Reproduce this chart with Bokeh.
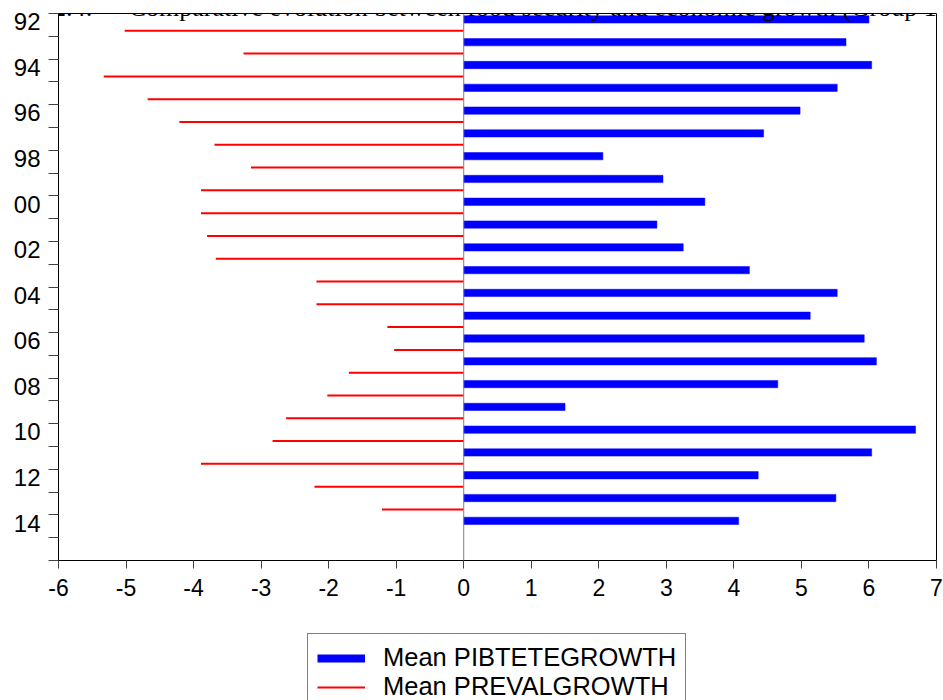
import numpy as np
from bokeh.plotting import figure
from bokeh.layouts import column
from bokeh.models import (Range1d, FixedTicker, Span, Legend, LegendItem, Label,
                          ColumnDataSource)
from bokeh.embed import file_html
from bokeh.resources import INLINE

# ---- data ----
years_pib = list(range(1992, 2015))
pib_growth = [6.00, 5.66, 6.04, 5.53, 4.98, 4.44, 2.06, 2.95, 3.57, 2.86, 3.25, 4.23,
              5.53, 5.13, 5.93, 6.11, 4.65, 1.50, 6.69, 6.04, 4.36, 5.51, 4.07]
years_prev = list(range(1992, 2014))
preval_growth = [-5.02, -3.26, -5.33, -4.68, -4.21, -3.69, -3.15, -3.89, -3.89, -3.80,
                 -3.67, -2.18, -2.18, -1.13, -1.03, -1.70, -2.02, -2.63, -2.83, -3.89,
                 -2.21, -1.21]
x_ticks = list(range(-6, 8))
x_tick_labels = ["-6", "-5", "-4", "-3", "-2", "-1", "0", "1", "2", "3", "4", "5", "6", "7"]
y_tick_years = list(range(1992, 2017))
y_label_years = list(range(1992, 2015, 2))
y_labels = ["92", "94", "96", "98", "00", "02", "04", "06", "08", "10", "12", "14"]
series_names = ["Mean PIBTETEGROWTH", "Mean PREVALGROWTH"]
title_head = "Figure 2.4:"
title_tail = "Comparative evolution between food security and economic growth (Group 1)"

FONT = "Liberation Sans"
BLUE, RED = "#0000FF", "#FF0000"
BAR_OFF, LINE_OFF, LABEL_OFF = 0.26, 0.76, 0.36

src_pib = ColumnDataSource(dict(y=[v + BAR_OFF for v in years_pib], right=pib_growth))
src_prev = ColumnDataSource(dict(y=[v + LINE_OFF for v in years_prev],
                                 x0=[0] * len(preval_growth), x1=preval_growth))

p = figure(width=943, height=605, output_backend="svg", toolbar_location=None,
           x_range=Range1d(-6, 7), y_range=Range1d(2016, 1992),
           min_border_left=58, min_border_right=7, min_border_top=13, min_border_bottom=45)

p.background_fill_color = "white"
p.border_fill_color = "white"
p.outline_line_color = "black"
p.outline_line_width = 1
p.xgrid.visible = False
p.ygrid.visible = False

r_pib = p.hbar(y="y", left=0, right="right", height=0.32, source=src_pib,
               fill_color=BLUE, line_color=BLUE, line_width=0.5)
r_prev = p.segment(x0="x0", y0="y", x1="x1", y1="y", source=src_prev,
                   line_color=RED, line_width=2)

p.add_layout(Span(location=0, dimension="height", line_color="#808080", line_width=1))

# x axis
xa = p.xaxis[0]
xa.ticker = FixedTicker(ticks=x_ticks, minor_ticks=[])
xa.major_label_overrides = dict(zip(x_ticks, x_tick_labels))
xa.major_tick_out = 8
xa.major_tick_in = 0
xa.minor_tick_out = 0
xa.major_label_standoff = 10
xa.major_label_text_font = FONT
xa.major_label_text_font_size = "23px"
xa.major_label_text_color = "black"
xa.axis_line_color = "black"
xa.major_tick_line_color = "#404040"

# y axis: ticks at every year, labels at even years (placed as in the original)
ya = p.yaxis[0]
label_pos = [v + LABEL_OFF for v in y_label_years]
ya.ticker = FixedTicker(ticks=label_pos, minor_ticks=y_tick_years)
ya.major_label_overrides = dict(zip(label_pos, y_labels))
ya.major_tick_out = 0
ya.major_tick_in = 0
ya.minor_tick_out = 10
ya.minor_tick_in = 0
ya.minor_tick_line_color = "#404040"
ya.major_label_standoff = 8
ya.major_label_text_font = FONT
ya.major_label_text_font_size = "24px"
ya.major_label_text_color = "black"
ya.axis_line_color = "black"

title_font = "Liberation Serif"
p.add_layout(Label(x=-7.184, y=1991.75, text=title_head, text_font=title_font,
                   text_font_size="26px", text_color="black",
                   text_baseline="alphabetic", text_align="left"))
p.add_layout(Label(x=-4.96, y=1991.75, text=title_tail, text_font=title_font,
                   text_font_size="26px", text_color="black",
                   text_baseline="alphabetic", text_align="left"))

# ---- legend strip below the chart (key glyphs only, nothing plotted) ----
q = figure(width=943, height=95, output_backend="svg", toolbar_location=None,
           x_range=Range1d(0, 1), y_range=Range1d(0, 1),
           x_axis_type=None, y_axis_type=None,
           min_border_left=0, min_border_right=0, min_border_top=0, min_border_bottom=0)
q.outline_line_color = None
q.xgrid.visible = False
q.ygrid.visible = False
nan1 = np.array([np.nan])
k_pib = q.segment(x0=nan1, y0=nan1, x1=nan1, y1=nan1, line_color=BLUE, line_width=8)
k_prev = q.segment(x0=nan1, y0=nan1, x1=nan1, y1=nan1, line_color=RED, line_width=2)

legend = Legend(items=[LegendItem(label=series_names[0], renderers=[k_pib], index=0),
                       LegendItem(label=series_names[1], renderers=[k_prev], index=0)],
                location=(249, -11), orientation="vertical", margin=0,
                label_text_font=FONT, label_text_font_size="25.5px",
                label_text_color="black", glyph_width=48, glyph_height=10,
                label_standoff=18, padding=9, spacing=0, label_height=28,
                border_line_color="black", border_line_width=1,
                background_fill_color="white", background_fill_alpha=1.0)
q.add_layout(legend, "center")

layout = column(p, q, spacing=0)
open("out.html", "w").write(file_html(layout, INLINE))
